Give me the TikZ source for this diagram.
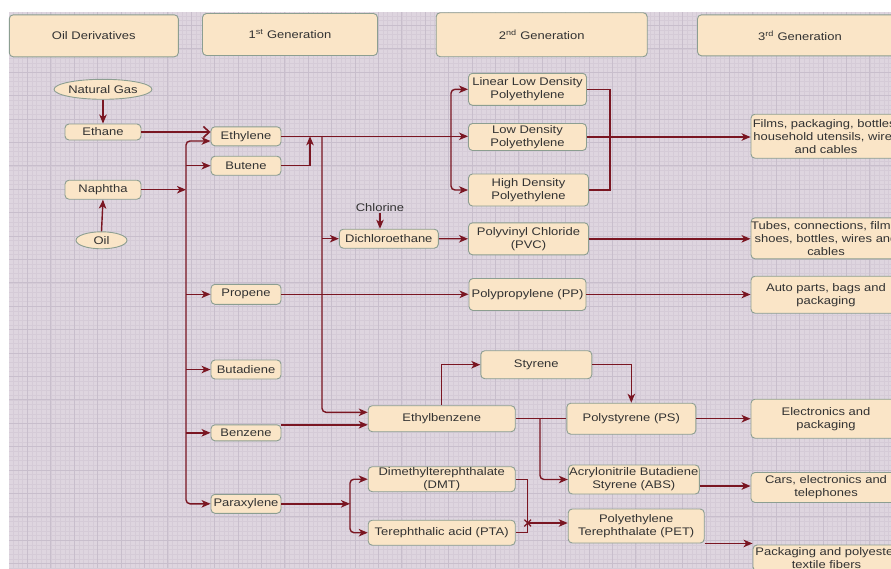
\documentclass[tikz,border=0pt]{standalone}
\usepackage{fontspec}
\setmainfont{Liberation Sans}[FakeStretch=1.18]
\usetikzlibrary{arrows.meta,shapes.geometric,shapes.misc,calc}
\definecolor{peach}{RGB}{250,229,199}
\definecolor{bordc}{RGB}{140,158,145}
\definecolor{linec}{RGB}{122,22,34}
\definecolor{txtc}{RGB}{50,50,50}
\definecolor{bgc}{RGB}{222,213,223}
\definecolor{minorc}{RGB}{213,203,215}
\definecolor{majorc}{RGB}{200,190,204}
\begin{document}
\begin{tikzpicture}[x=1pt,y=-1pt,
  box/.style={draw=bordc, fill=peach, line width=0.9pt, rounded corners=4pt, inner sep=0pt, align=center, text=txtc, font=\fontsize{11}{13}\selectfont},
  oval/.style={box, ellipse, sharp corners},
  conn/.style={draw=linec, line width=1.4pt},
  arr/.style={conn, -{Stealth[length=9pt,width=7.5pt,inset=2.5pt]}},
  openarr/.style={draw=linec, line width=1.6pt, -{Straight Barb[length=6pt,width=11pt]}},
  minorline/.style={minorc, line width=0.4pt},
  majorline/.style={majorc, line width=0.7pt}
]
\useasboundingbox (0,0) rectangle (891,568);
\clip (0,0) rectangle (891,568);
\fill[white] (0,0) rectangle (891,568);
\fill[bgc] (9,12) rectangle (891,568);
\foreach \k in {2,...,189} \draw[minorline] ({3.9+4.68*\k},12) -- ({3.9+4.68*\k},568);
\foreach \k in {3,...,121} \draw[minorline] (9,{1.9+4.68*\k}) -- (891,{1.9+4.68*\k});
\foreach \k in {1,...,37} \draw[majorline] ({3.9+23.4*\k},12) -- ({3.9+23.4*\k},568);
\foreach \k in {1,...,24} \draw[majorline] (9,{1.9+23.4*\k}) -- (891,{1.9+23.4*\k});

% headers
\node[box, minimum width=169pt, minimum height=42pt] (h1) at (93.8,35.8) {Oil Derivatives};
\node[box, minimum width=175pt, minimum height=42pt] (h2) at (290,34.5) {1\textsuperscript{st} Generation};
\node[box, minimum width=211pt, minimum height=44pt] (h3) at (541.7,34.7) {2\textsuperscript{nd} Generation};
\node[box, minimum width=205pt, minimum height=41pt] (h4) at (800,35.3) {3\textsuperscript{rd} Generation};

% sources
\node[oval, minimum width=95pt, minimum height=20pt] (ng) at (103,89.3) {Natural Gas};
\node[box, minimum width=76pt, minimum height=16pt] (ethane) at (103,132) {Ethane};
\node[box, minimum width=76pt, minimum height=19pt] (naphtha) at (103,189.7) {Naphtha};
\node[oval, minimum width=51pt, minimum height=17pt] (oil) at (101.5,240.3) {Oil};

% first generation
\node[box, minimum width=70pt, minimum height=19pt] (ethylene) at (246,136.3) {Ethylene};
\node[box, minimum width=70pt, minimum height=19pt] (butene) at (246,165.7) {Butene};
\node[box, minimum width=70pt, minimum height=20pt] (propene) at (246,294.3) {Propene};
\node[box, minimum width=70pt, minimum height=19pt] (butadiene) at (246,369.5) {Butadiene};
\node[box, minimum width=70pt, minimum height=16pt] (benzene) at (246,432.8) {Benzene};
\node[box, minimum width=70pt, minimum height=19pt] (paraxylene) at (246,503.8) {Paraxylene};

% second generation
\node[box, minimum width=118pt, minimum height=32pt] (lldpe) at (527.5,89.3) {Linear Low Density\\Polyethylene};
\node[box, minimum width=118pt, minimum height=27pt] (ldpe) at (527.5,137) {Low Density\\Polyethylene};
\node[box, minimum width=120pt, minimum height=32pt] (hdpe) at (528.5,190) {High Density\\Polyethylene};
\node[text=txtc, font=\fontsize{11}{13}\selectfont, inner sep=1pt] (chlorine) at (380,207.7) {Chlorine};
\node[box, minimum width=99pt, minimum height=19pt] (dichloro) at (388.8,238.7) {Dichloroethane};
\node[box, minimum width=120pt, minimum height=32pt] (pvc) at (528.5,238.8) {Polyvinyl Chloride\\(PVC)};
\node[box, minimum width=117pt, minimum height=32pt] (pp) at (527.5,294.5) {Polypropylene (PP)};
\node[box, minimum width=111pt, minimum height=28pt] (styrene) at (536.3,364.7) {Styrene};
\node[box, minimum width=147pt, minimum height=26pt] (ethylbenzene) at (441.7,418.7) {Ethylbenzene};
\node[box, minimum width=129pt, minimum height=31pt] (ps) at (631.3,418.7) {Polystyrene (PS)};
\node[box, minimum width=131pt, minimum height=29pt] (abs) at (633.8,479.5) {Acrylonitrile Butadiene\\Styrene (ABS)};
\node[box, minimum width=147pt, minimum height=25pt] (dmt) at (441.7,479.2) {Dimethylterephthalate\\(DMT)};
\node[box, minimum width=147pt, minimum height=25pt] (pta) at (441.7,532.7) {Terephthalic acid (PTA)};
\node[box, minimum width=136pt, minimum height=34pt] (pet) at (636.2,526) {Polyethylene\\Terephthalate (PET)};

% third generation
\node[box, minimum width=150pt, minimum height=44pt] (films) at (826,136.2) {Films, packaging, bottles,\\household utensils, wires\\and cables};
\node[box, minimum width=150pt, minimum height=41pt] (tubes) at (826,238.3) {Tubes, connections, films,\\shoes, bottles, wires and\\cables};
\node[box, minimum width=150pt, minimum height=37pt] (auto) at (826,294.7) {Auto parts, bags and\\packaging};
\node[box, minimum width=150pt, minimum height=39pt] (elec) at (826,418.7) {Electronics and\\packaging};
\node[box, minimum width=150pt, minimum height=30pt] (cars) at (826,487.5) {Cars, electronics and\\telephones};
\node[box, minimum width=147pt, minimum height=26pt] (pack) at (826.5,558) {Packaging and polyester\\textile fibers};

% junction coordinates
\coordinate (tj) at (186,189.7);
\coordinate (bj) at (310,136.3);
\coordinate (vj) at (322,136.5);
\coordinate (lj) at (451,136.7);
\coordinate (r1) at (610,89.3);
\coordinate (ej) at (540,418.7);
\coordinate (pj) at (350,503.8);
\node[cross out, draw=linec, line width=1.2pt, minimum size=5.5pt, inner sep=0pt] (xm) at (527.7,523) {};

% connectors
\draw[arr] (ng.south) -- (ethane.north);
\draw[arr] (oil.north) -- (naphtha.south);
\draw[openarr] (ethane.east) -- (ethane.east -| ethylene.west);
\draw[arr] (naphtha.east) -- (tj);
\draw[arr, rounded corners=4pt] (tj) |- ([yshift=-4.7pt]ethylene.west);
\draw[arr, rounded corners=4pt] (tj) |- (paraxylene.west);
\draw[arr] (tj |- butene.west) -- (butene.west);
\draw[arr] (tj |- propene.west) -- (propene.west);
\draw[arr] (tj |- butadiene.west) -- (butadiene.west);
\draw[arr] (tj |- benzene.west) -- (benzene.west);

\draw[arr] (ethylene.east) -- (ethylene.east -| ldpe.west);
\draw[arr] (butene.east) -| (bj);
\draw[arr, rounded corners=4pt] (vj) |- ([yshift=6.4pt]ethylbenzene.west);
\draw[arr] (vj |- dichloro.west) -- (dichloro.west);
\draw[arr, rounded corners=4pt] (lj) |- (lldpe.west);
\draw[arr, rounded corners=4pt] (lj) |- (hdpe.west);
\draw[conn] (lldpe.east) -- (r1) |- (hdpe.east);
\draw[arr] (ldpe.east) -- (ldpe.east -| films.west);

\draw[arr] (chlorine.south) -- (chlorine.south |- dichloro.north);
\draw[arr] (dichloro.east) -- (pvc.west);
\draw[arr] (pvc.east) -- (pvc.east -| tubes.west);
\draw[arr] (propene.east) -- (propene.east -| pp.west);
\draw[arr] (pp.east) -- (pp.east -| auto.west);

\draw[arr] ([yshift=8pt]benzene.east) -- ([yshift=8pt]benzene.east -| ethylbenzene.west);
\draw[arr] (ethylbenzene.north) |- (styrene.west);
\draw[arr] (styrene.east) -| (ps.north);
\draw[conn] (ethylbenzene.east) -- (ps.west);
\draw[arr, rounded corners=4pt] (ej) |- (abs.west);
\draw[arr] (ps.east) -- (ps.east -| elec.west);
\draw[arr] ([yshift=-6.5pt]abs.east) -- ([yshift=-6.5pt]abs.east -| cars.west);

\draw[arr] (paraxylene.east) -- (pj);
\draw[arr, rounded corners=4pt] (pj) |- (dmt.west);
\draw[arr, rounded corners=4pt] (pj) |- (pta.west);
\draw[conn] (dmt.east) -| (xm.center);
\draw[conn] (pta.east) -| (xm.center);
\draw[arr] (xm.center) -- (xm.center -| pet.west);
\draw[arr] (pet.south east) -- (pet.south east -| pack.west);
\end{tikzpicture}
\end{document}
